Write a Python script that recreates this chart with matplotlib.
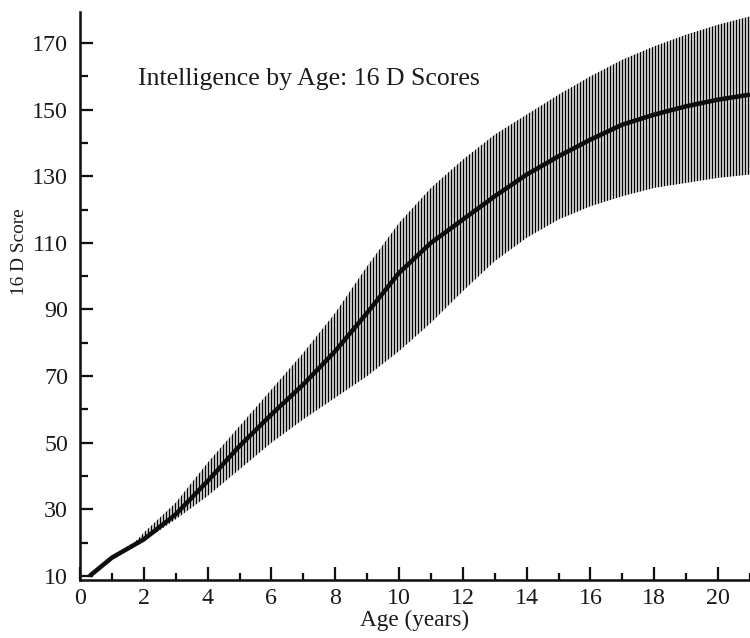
import numpy as np
import matplotlib
matplotlib.use("Agg")
import matplotlib.pyplot as plt
from matplotlib.ticker import MultipleLocator, FixedLocator

# Mean 16 D score by age
ages = [0.3, 1, 2, 3, 4, 5, 6, 7, 8, 9, 10, 11, 12, 13, 14, 15, 16, 17, 18, 19, 20, 21]
mean_score = [10, 15.5, 21, 28.5, 38.5, 49, 58.5, 67.5, 77.5, 89, 101, 110, 117, 124,
              130.5, 136, 141, 145.5, 148.5, 151, 153, 154.5]

# Spread of scores around the mean
band_ages = [1.7, 2, 3, 4, 5, 6, 7, 8, 9, 10, 11, 12, 13, 14, 15, 16, 17, 18, 19, 20, 21]
band_upper = [20, 23, 32, 44, 55, 66, 77, 89, 103, 116, 126.5, 135, 142.5, 148.5, 154.5,
              160, 165, 169, 172.5, 175.5, 178]
band_lower = [19.5, 20.5, 27, 34, 42, 50, 57, 63.5, 70, 77.5, 86, 95.5, 104.5, 111.5, 117,
              121, 124, 126.5, 128, 129.5, 130.5]

x_major = [0, 2, 4, 6, 8, 10, 12, 14, 16, 18, 20]
y_major = [10, 30, 50, 70, 90, 110, 130, 150, 170]

DPI = 108
plt.rcParams["font.family"] = ["Liberation Serif", "DejaVu Serif"]
plt.rcParams["hatch.linewidth"] = 1.0
plt.rcParams["hatch.color"] = "#000000"

fig = plt.figure(figsize=(750 / DPI, 638 / DPI), dpi=DPI)
ax = fig.add_axes([80 / 750, 58 / 638, 670 / 750, 568 / 638])

ax.fill_between(band_ages, band_lower, band_upper, facecolor="none",
                edgecolor="#000000", hatch="|" * 6, linewidth=0)
ax.plot(ages, mean_score, color="#0d0d0d", linewidth=3.0, solid_capstyle="butt")

ax.set_xlim(0, 21)
ax.set_ylim(8.8, 179.3)

for side in ("top", "right"):
    ax.spines[side].set_visible(False)
for side in ("left", "bottom"):
    ax.spines[side].set_linewidth(1.7)
    ax.spines[side].set_color("#111111")

ax.xaxis.set_major_locator(FixedLocator(x_major))
ax.xaxis.set_minor_locator(MultipleLocator(1))
ax.yaxis.set_major_locator(FixedLocator(y_major))
ax.yaxis.set_minor_locator(FixedLocator([20, 40, 60, 80, 100, 120, 140, 160]))

ax.tick_params(axis="both", which="major", direction="in", length=8.5, width=1.5,
               color="#111111", labelsize=16, labelcolor="#1a1a1a")
ax.tick_params(axis="both", which="minor", direction="in", length=5, width=1.5,
               color="#111111")
ax.tick_params(axis="y", which="major", pad=8)
ax.tick_params(axis="x", which="major", pad=5)

ax.set_xlabel("Age (years)", fontsize=15.5, color="#1a1a1a", labelpad=1)
ax.set_ylabel("16 D Score", fontsize=12.8, color="#1a1a1a")
ax.yaxis.set_label_coords(-0.078, (580 - 252) / 568)

ax.text(0.0865, 0.882, "Intelligence by Age: 16 D Scores", transform=ax.transAxes,
        fontsize=17.2, color="#1a1a1a", ha="left", va="center")

fig.savefig("out.png", dpi=DPI, facecolor="white")
